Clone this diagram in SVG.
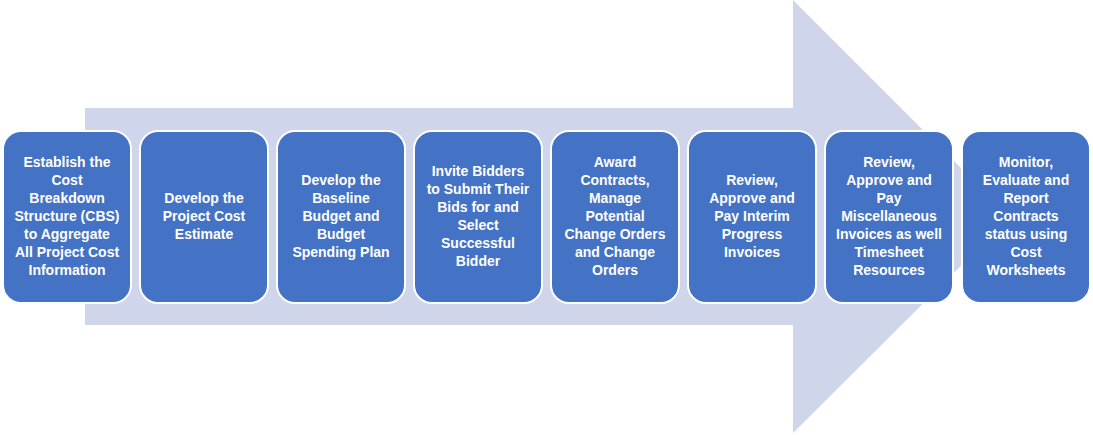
<svg xmlns="http://www.w3.org/2000/svg" width="1093" height="435" viewBox="0 0 1093 435">
<style>
.b{fill:#4472c4;stroke:#fff;stroke-width:2}
.t{fill:#fff;font-family:"Liberation Sans",Arial,sans-serif;font-weight:bold;font-size:14px;text-anchor:middle}
</style>
<g id="arrow"><polygon points="85,108 793,108 793,0 1010,217 793,433 793,325 85,325" fill="#cfd5ea"/></g>
<g id="connectors"></g>
<g id="n1"><rect class="b" x="3" y="131" width="128" height="172" rx="18"/><text class="t"><tspan x="67" y="167">Establish the</tspan><tspan x="67" y="185">Cost</tspan><tspan x="67" y="203">Breakdown</tspan><tspan x="67" y="221">Structure (CBS)</tspan><tspan x="67" y="239">to Aggregate</tspan><tspan x="67" y="257">All Project Cost</tspan><tspan x="67" y="275">Information</tspan></text></g>
<g id="n2"><rect class="b" x="140" y="131" width="128" height="172" rx="18"/><text class="t"><tspan x="204" y="203">Develop the</tspan><tspan x="204" y="221">Project Cost</tspan><tspan x="204" y="239">Estimate</tspan></text></g>
<g id="n3"><rect class="b" x="277" y="131" width="128" height="172" rx="18"/><text class="t"><tspan x="341" y="185">Develop the</tspan><tspan x="341" y="203">Baseline</tspan><tspan x="341" y="221">Budget and</tspan><tspan x="341" y="239">Budget</tspan><tspan x="341" y="257">Spending Plan</tspan></text></g>
<g id="n4"><rect class="b" x="414" y="131" width="128" height="172" rx="18"/><text class="t"><tspan x="478" y="176">Invite Bidders</tspan><tspan x="478" y="194">to Submit Their</tspan><tspan x="478" y="212">Bids for and</tspan><tspan x="478" y="230">Select</tspan><tspan x="478" y="248">Successful</tspan><tspan x="478" y="266">Bidder</tspan></text></g>
<g id="n5"><rect class="b" x="551" y="131" width="128" height="172" rx="18"/><text class="t"><tspan x="615" y="167">Award</tspan><tspan x="615" y="185">Contracts,</tspan><tspan x="615" y="203">Manage</tspan><tspan x="615" y="221">Potential</tspan><tspan x="615" y="239">Change Orders</tspan><tspan x="615" y="257">and Change</tspan><tspan x="615" y="275">Orders</tspan></text></g>
<g id="n6"><rect class="b" x="688" y="131" width="128" height="172" rx="18"/><text class="t"><tspan x="752" y="185">Review,</tspan><tspan x="752" y="203">Approve and</tspan><tspan x="752" y="221">Pay Interim</tspan><tspan x="752" y="239">Progress</tspan><tspan x="752" y="257">Invoices</tspan></text></g>
<g id="n7"><rect class="b" x="825" y="131" width="128" height="172" rx="18"/><text class="t"><tspan x="889" y="167">Review,</tspan><tspan x="889" y="185">Approve and</tspan><tspan x="889" y="203">Pay</tspan><tspan x="889" y="221">Miscellaneous</tspan><tspan x="889" y="239">Invoices as well</tspan><tspan x="889" y="257">Timesheet</tspan><tspan x="889" y="275">Resources</tspan></text></g>
<g id="n8"><rect class="b" x="962" y="131" width="128" height="172" rx="18"/><text class="t"><tspan x="1026" y="167">Monitor,</tspan><tspan x="1026" y="185">Evaluate and</tspan><tspan x="1026" y="203">Report</tspan><tspan x="1026" y="221">Contracts</tspan><tspan x="1026" y="239">status using</tspan><tspan x="1026" y="257">Cost</tspan><tspan x="1026" y="275">Worksheets</tspan></text></g>
</svg>
